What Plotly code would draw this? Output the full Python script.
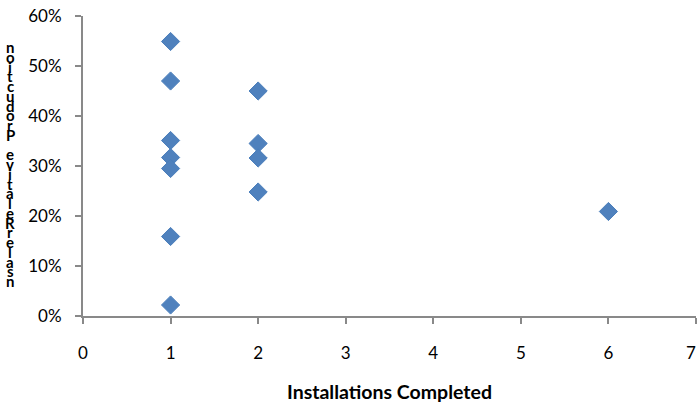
import plotly.graph_objects as go

# Installations completed vs. relative production
installations = [1, 1, 1, 1, 1, 1, 1, 2, 2, 2, 2, 6]
relative_production = [0.549, 0.470, 0.351, 0.317, 0.295, 0.159, 0.022,
                       0.450, 0.345, 0.316, 0.248, 0.209]

x_title = "Installations Completed"
# vertical title, glyphs stacked top to bottom
y_title_chars = list("noitcudorP evitaleRrelasn")

x_ticks = [0, 1, 2, 3, 4, 5, 6, 7]
y_ticks = [0, 0.1, 0.2, 0.3, 0.4, 0.5, 0.6]

FONT = "Lato, 'Open Sans', sans-serif"
AXIS_GREY = "#898989"

fig = go.Figure()
fig.add_trace(go.Scatter(
    x=installations,
    y=relative_production,
    mode="markers",
    marker=dict(symbol="diamond", size=14, color="#4F81BD",
                line=dict(color="#4A7EBB", width=1)),
    hoverinfo="x+y",
    showlegend=False,
))

top_px, bottom_px = 16, 316
plot_h = bottom_px - top_px
first_c, last_c = 47, 281
n = len(y_title_chars)
annotations = []
for i, ch in enumerate(y_title_chars):
    if ch == " ":
        continue
    py = first_c + (last_c - first_c) * i / (n - 1)
    annotations.append(dict(
        text="<b>%s</b>" % ch, xref="paper", yref="paper", x=0, xshift=-73,
        y=(bottom_px - py) / plot_h, xanchor="center", yanchor="middle",
        showarrow=False, font=dict(family=FONT, size=15, color="#000000"),
    ))
annotations.append(dict(
    text="<b>%s</b>" % x_title, xref="paper", yref="paper", x=0.5, y=0,
    yshift=-75, xanchor="center", yanchor="middle", showarrow=False,
    font=dict(family=FONT, size=19.5, color="#000000"),
))

# last x tick label is nudged inward so it stays on the page
tick_text = [str(v) for v in x_ticks]
last_label = tick_text[-1]
tick_text[-1] = ""
annotations.append(dict(
    text=last_label, xref="x", yref="paper", x=x_ticks[-1], y=0,
    xshift=-5, yshift=-36, xanchor="center", yanchor="middle",
    showarrow=False, font=dict(family=FONT, size=17, color="#000000"),
))

fig.update_layout(
    width=699, height=402,
    margin=dict(l=83, r=3, t=16, b=86),
    paper_bgcolor="white", plot_bgcolor="white",
    font=dict(family=FONT, size=17, color="#000000"),
    annotations=annotations,
    xaxis=dict(
        range=[0, 7], tickvals=x_ticks, ticktext=tick_text,
        showgrid=False, zeroline=False,
        showline=True, linecolor=AXIS_GREY, linewidth=2,
        ticks="outside", ticklen=6, tickwidth=2, tickcolor=AXIS_GREY,
        ticklabelstandoff=15, automargin=False,
        tickfont=dict(size=17),
    ),
    yaxis=dict(
        range=[0, 0.6], tickvals=y_ticks, tickformat=".0%",
        showgrid=False, zeroline=False, automargin=False,
        showline=True, linecolor=AXIS_GREY, linewidth=2,
        ticks="outside", ticklen=6, tickwidth=2, tickcolor=AXIS_GREY,
        ticklabelstandoff=10, tickfont=dict(size=17),
    ),
)

fig.write_html("out.html")
